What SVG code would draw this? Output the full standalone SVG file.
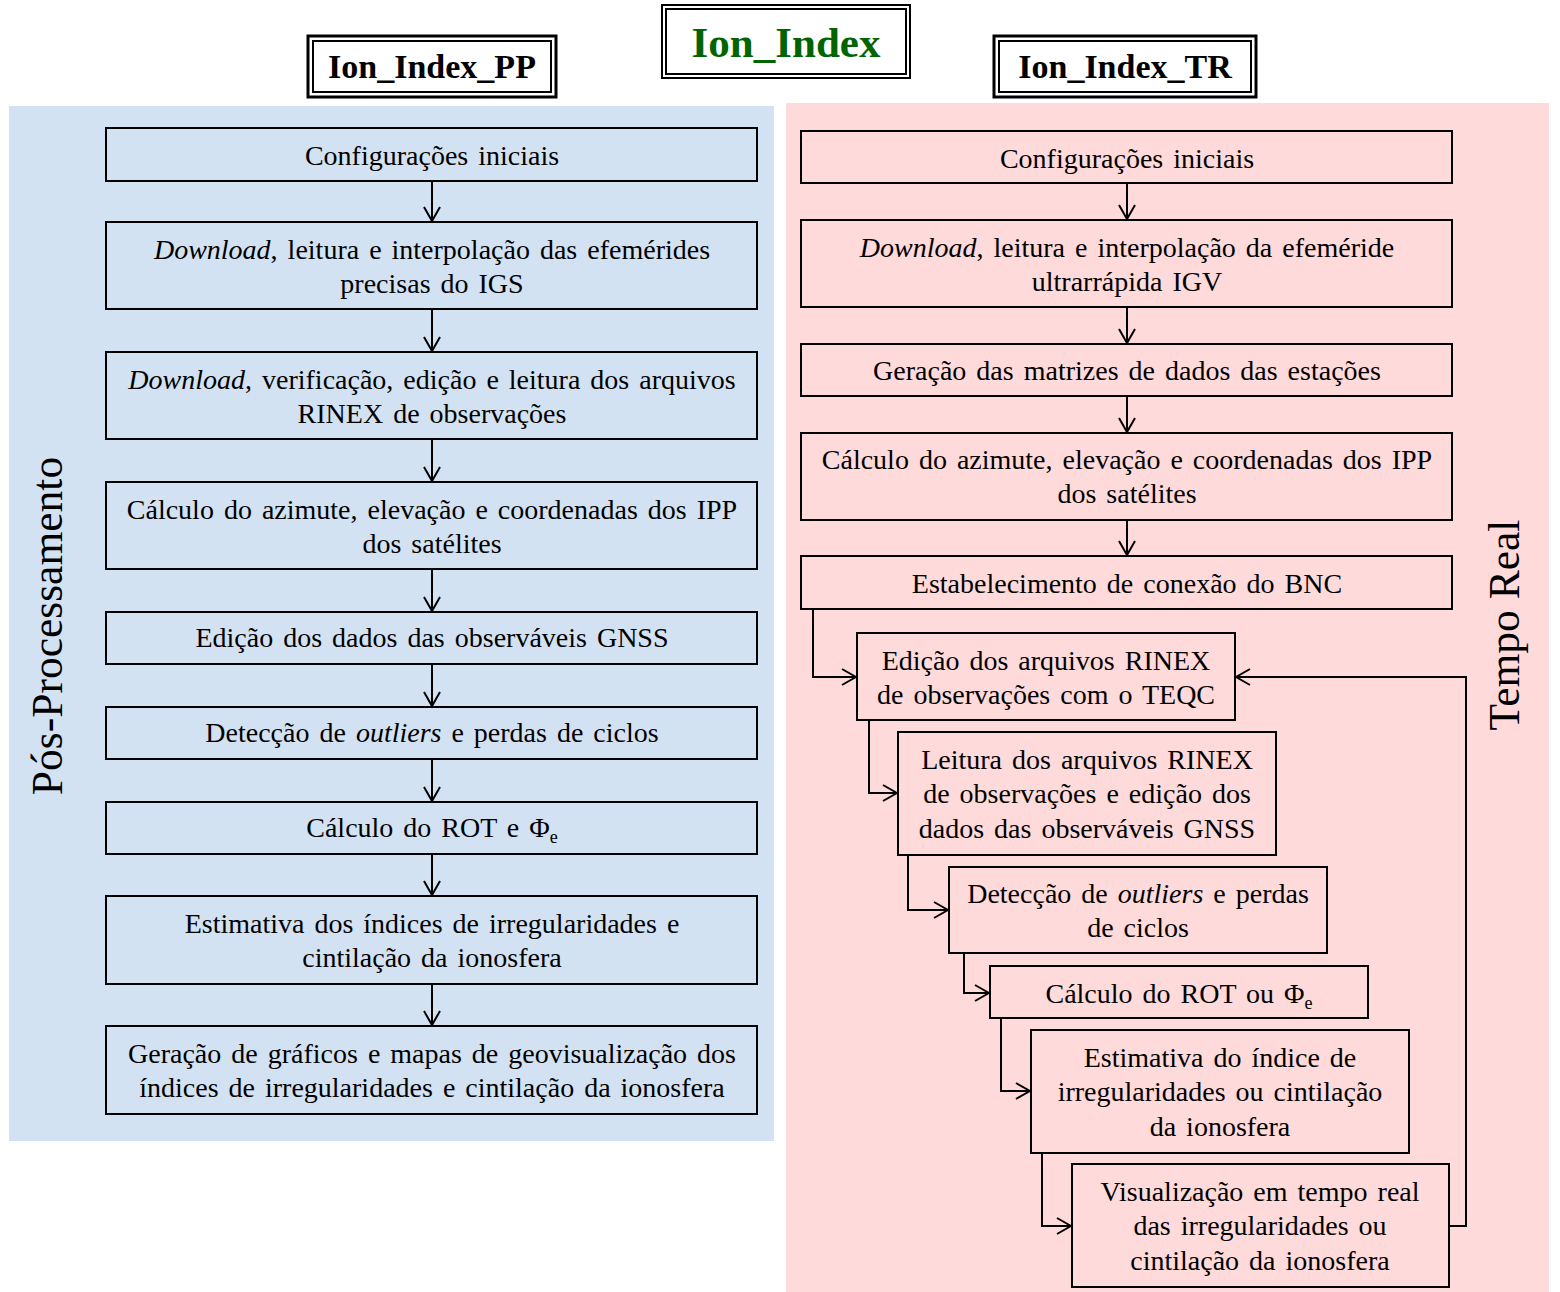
<svg xmlns="http://www.w3.org/2000/svg" width="1560" height="1292" viewBox="0 0 1560 1292">
<style>
.box{fill:none;stroke:#000;stroke-width:2}
.c{fill:none;stroke:#000;stroke-width:2}
</style>
<defs>
<marker id="ah" viewBox="0 0 16 18" refX="15" refY="9" markerWidth="16" markerHeight="18" markerUnits="userSpaceOnUse" orient="auto">
<path d="M1,1 L15,9 L1,17" fill="none" stroke="#000" stroke-width="2"/>
</marker>
</defs>
<rect width="1560" height="1292" fill="#fff"/>
<rect x="9" y="106" width="765" height="1035" fill="#D3E2F3"/>
<rect x="786" y="103" width="763" height="1189" fill="#FFDADA"/>

<g font-family="Liberation Serif, Times New Roman, serif" font-weight="bold" text-anchor="middle">
<g id="title-pp">
<rect x="308" y="36" width="248" height="61" fill="#fff" stroke="#000" stroke-width="3"/>
<rect x="313" y="41" width="238" height="51" fill="none" stroke="#000" stroke-width="2"/>
<text x="432" y="78" font-size="34">Ion_Index_PP</text>
</g>
<g id="title-main">
<rect x="662" y="5" width="248" height="73" fill="#fff" stroke="#000" stroke-width="2"/>
<rect x="666" y="9" width="240" height="65" fill="none" stroke="#000" stroke-width="2"/>
<text x="786" y="57" font-size="43" fill="#006400">Ion_Index</text>
</g>
<g id="title-tr">
<rect x="994" y="36" width="262" height="61" fill="#fff" stroke="#000" stroke-width="3"/>
<rect x="999" y="41" width="252" height="51" fill="none" stroke="#000" stroke-width="2"/>
<text x="1125" y="78" font-size="34">Ion_Index_TR</text>
</g>
</g>

<g font-family="Liberation Serif, Times New Roman, serif" font-size="43.5" text-anchor="middle">
<g id="label-pp"><text transform="translate(62,626) rotate(-90)">Pós-Processamento</text></g>
<g id="label-tr"><text transform="translate(1519,625) rotate(-90)">Tempo Real</text></g>
</g>

<g id="connectors">
<line class="c" x1="432" y1="181" x2="432" y2="221" marker-end="url(#ah)"/>
<line class="c" x1="432" y1="309" x2="432" y2="351" marker-end="url(#ah)"/>
<line class="c" x1="432" y1="439" x2="432" y2="481" marker-end="url(#ah)"/>
<line class="c" x1="432" y1="569" x2="432" y2="611" marker-end="url(#ah)"/>
<line class="c" x1="432" y1="664" x2="432" y2="706" marker-end="url(#ah)"/>
<line class="c" x1="432" y1="759" x2="432" y2="801" marker-end="url(#ah)"/>
<line class="c" x1="432" y1="854" x2="432" y2="895" marker-end="url(#ah)"/>
<line class="c" x1="432" y1="984" x2="432" y2="1025" marker-end="url(#ah)"/>

<line class="c" x1="1127" y1="183" x2="1127" y2="219" marker-end="url(#ah)"/>
<line class="c" x1="1127" y1="307" x2="1127" y2="343" marker-end="url(#ah)"/>
<line class="c" x1="1127" y1="396" x2="1127" y2="432" marker-end="url(#ah)"/>
<line class="c" x1="1127" y1="520" x2="1127" y2="555" marker-end="url(#ah)"/>

<polyline class="c" points="813,609 813,677 856,677" marker-end="url(#ah)"/>
<polyline class="c" points="869,720 869,793 897,793" marker-end="url(#ah)"/>
<polyline class="c" points="908,855 908,910 948,910" marker-end="url(#ah)"/>
<polyline class="c" points="964,953 964,993 989,993" marker-end="url(#ah)"/>
<polyline class="c" points="1001,1018 1001,1091 1030,1091" marker-end="url(#ah)"/>
<polyline class="c" points="1042,1153 1042,1226 1071,1226" marker-end="url(#ah)"/>
<polyline class="c" points="1449,1226 1466,1226 1466,677 1236,677" marker-end="url(#ah)"/>
</g>

<g font-family="Liberation Serif, Times New Roman, serif" font-size="28" word-spacing="3" text-anchor="middle" fill="#000">
<g id="pp1"><rect class="box" x="106" y="128" width="651" height="53"/><text x="432" y="165">Configurações iniciais</text></g>
<g id="pp2"><rect class="box" x="106" y="222" width="651" height="87"/><text x="432" y="259"><tspan font-style="italic">Download</tspan>, leitura e interpolação das efemérides</text><text x="432" y="293">precisas do IGS</text></g>
<g id="pp3"><rect class="box" x="106" y="352" width="651" height="87"/><text x="432" y="389"><tspan font-style="italic">Download</tspan>, verificação, edição e leitura dos arquivos</text><text x="432" y="423">RINEX de observações</text></g>
<g id="pp4"><rect class="box" x="106" y="482" width="651" height="87"/><text x="432" y="519">Cálculo do azimute, elevação e coordenadas dos IPP</text><text x="432" y="553">dos satélites</text></g>
<g id="pp5"><rect class="box" x="106" y="612" width="651" height="52"/><text x="432" y="647">Edição dos dados das observáveis GNSS</text></g>
<g id="pp6"><rect class="box" x="106" y="707" width="651" height="52"/><text x="432" y="742">Detecção de <tspan font-style="italic">outliers</tspan> e perdas de ciclos</text></g>
<g id="pp7"><rect class="box" x="106" y="802" width="651" height="52"/><text x="432" y="837">Cálculo do ROT e Φ<tspan font-size="18" dy="6">e</tspan></text></g>
<g id="pp8"><rect class="box" x="106" y="896" width="651" height="88"/><text x="432" y="933">Estimativa dos índices de irregularidades e</text><text x="432" y="967">cintilação da ionosfera</text></g>
<g id="pp9"><rect class="box" x="106" y="1026" width="651" height="88"/><text x="432" y="1063">Geração de gráficos e mapas de geovisualização dos</text><text x="432" y="1097">índices de irregularidades e cintilação da ionosfera</text></g>

<g id="tr1"><rect class="box" x="801" y="131" width="651" height="52"/><text x="1127" y="168">Configurações iniciais</text></g>
<g id="tr2"><rect class="box" x="801" y="220" width="651" height="87"/><text x="1127" y="257"><tspan font-style="italic">Download</tspan>, leitura e interpolação da efeméride</text><text x="1127" y="291">ultrarrápida IGV</text></g>
<g id="tr3"><rect class="box" x="801" y="344" width="651" height="52"/><text x="1127" y="380">Geração das matrizes de dados das estações</text></g>
<g id="tr4"><rect class="box" x="801" y="433" width="651" height="87"/><text x="1127" y="469">Cálculo do azimute, elevação e coordenadas dos IPP</text><text x="1127" y="503">dos satélites</text></g>
<g id="tr5"><rect class="box" x="801" y="556" width="651" height="53"/><text x="1127" y="593">Estabelecimento de conexão do BNC</text></g>
<g id="tr6"><rect class="box" x="857" y="633" width="378" height="87"/><text x="1046" y="670">Edição dos arquivos RINEX</text><text x="1046" y="704">de observações com o TEQC</text></g>
<g id="tr7"><rect class="box" x="898" y="732" width="378" height="123"/><text x="1087" y="769">Leitura dos arquivos RINEX</text><text x="1087" y="803">de observações e edição dos</text><text x="1087" y="838">dados das observáveis GNSS</text></g>
<g id="tr8"><rect class="box" x="949" y="867" width="378" height="86"/><text x="1138" y="903">Detecção de <tspan font-style="italic">outliers</tspan> e perdas</text><text x="1138" y="937">de ciclos</text></g>
<g id="tr9"><rect class="box" x="990" y="966" width="378" height="52"/><text x="1179" y="1003">Cálculo do ROT ou Φ<tspan font-size="18" dy="6">e</tspan></text></g>
<g id="tr10"><rect class="box" x="1031" y="1030" width="378" height="123"/><text x="1220" y="1067">Estimativa do índice de</text><text x="1220" y="1101">irregularidades ou cintilação</text><text x="1220" y="1136">da ionosfera</text></g>
<g id="tr11"><rect class="box" x="1072" y="1164" width="377" height="123"/><text x="1260" y="1201">Visualização em tempo real</text><text x="1260" y="1235">das irregularidades ou</text><text x="1260" y="1270">cintilação da ionosfera</text></g>
</g>
</svg>
